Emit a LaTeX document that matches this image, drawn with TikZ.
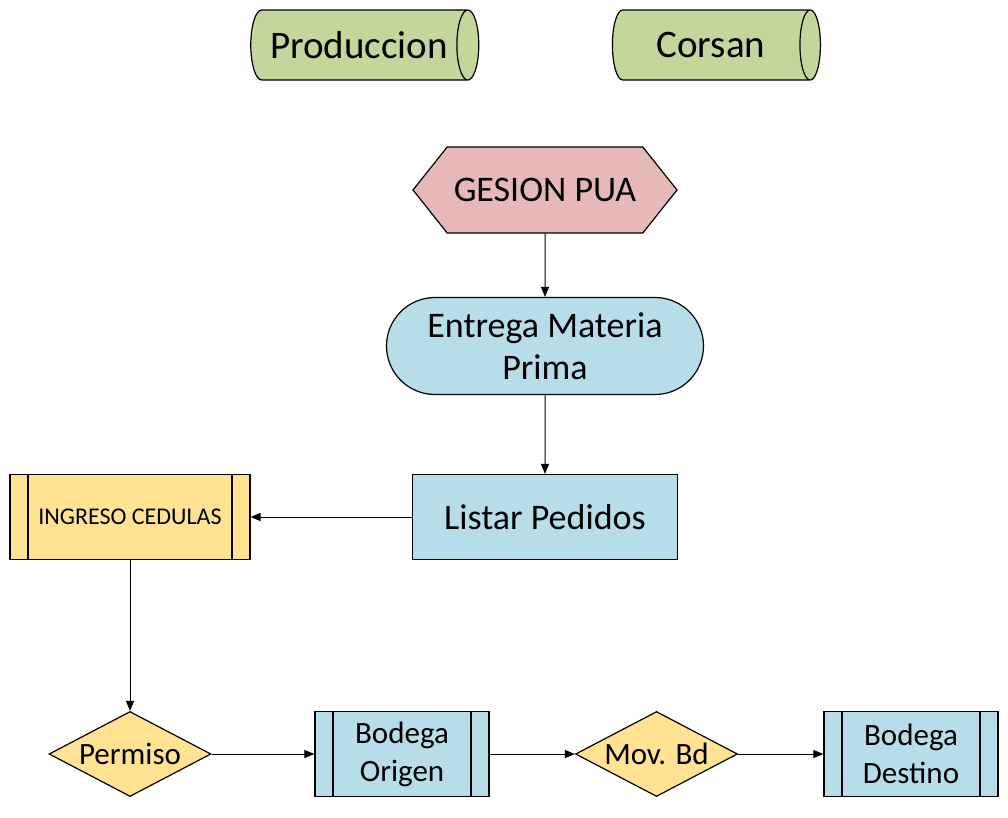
\documentclass[tikz,border=0pt]{standalone}
\usepackage{fontspec}
\setmainfont{Carlito}
\usepackage{xcolor}
\usetikzlibrary{positioning,arrows.meta,shapes.geometric,shapes.misc,shapes.symbols}
\definecolor{cylgreen}{HTML}{C3D69B}
\definecolor{hexpink}{HTML}{E6B9B8}
\definecolor{actblue}{HTML}{B7DEE8}
\definecolor{decyellow}{HTML}{FFE393}

\begin{document}
\begin{tikzpicture}[x=1pt, y=-1pt, >={Triangle[length=10pt, width=8pt]}, line width=1pt,
  base/.style={draw, line width=1.2pt, align=center, inner sep=0pt, font=\fontsize{36}{42}\selectfont},
  cyl/.style={base, cylinder, shape aspect=0.8, fill=cylgreen, minimum width=70, font=\fontsize{39}{44}\selectfont},
  hexa/.style={base, signal, signal to=west and east, signal pointer angle=103, fill=hexpink},
  term/.style={base, rounded rectangle, fill=actblue},
  act/.style={base, rectangle, fill=actblue},
  sub/.style={base, rectangle, minimum height=85, font=\fontsize{31}{38}\selectfont,
    path picture={\draw[line width=1.2pt] ([xshift=18pt]path picture bounding box.north west) -- ([xshift=18pt]path picture bounding box.south west);
      \draw[line width=1.2pt] ([xshift=-18pt]path picture bounding box.north east) -- ([xshift=-18pt]path picture bounding box.south east);}},
  dec/.style={base, diamond, shape aspect=1.9, fill=decyellow, minimum width=162, minimum height=85, font=\fontsize{31}{38}\selectfont}]
\useasboundingbox (0,0) rectangle (1008,817);
\node[cyl, minimum height=228] (prod) at (359,45) {Produccion};
\node[cyl, minimum height=208] (cors) at (711,45) {Corsan};
\node[hexa, minimum width=264, minimum height=86] (gest) at (545,190) {GESION PUA};
\node[term, minimum width=317, minimum height=97] (ent) at (545,346) {Entrega Materia\\Prima};
\node[act, minimum width=265, minimum height=85] (list) at (545,517) {Listar Pedidos};
\node[sub, fill=decyellow, minimum width=240, font=\fontsize{24}{29}\selectfont] (ing) at (130,517) {INGRESO CEDULAS};
\node[dec] (perm) at (130,754) {Permiso};
\node[sub, fill=actblue, minimum width=174] (orig) at (402,754) {Bodega\\Origen};
\node[dec] (mov) at (656.5,754) {Mov. Bd};
\node[sub, fill=actblue, minimum width=174] (dest) at (911,754) {Bodega\\Destino};
\draw[->] (gest) -- (ent);
\draw[->] (ent) -- (list);
\draw[->] (list) -- (ing);
\draw[->] (ing) -- (perm);
\draw[->] (perm) -- (orig);
\draw[->] (orig) -- (mov);
\draw[->] (mov) -- (dest);
\end{tikzpicture}
\end{document}
